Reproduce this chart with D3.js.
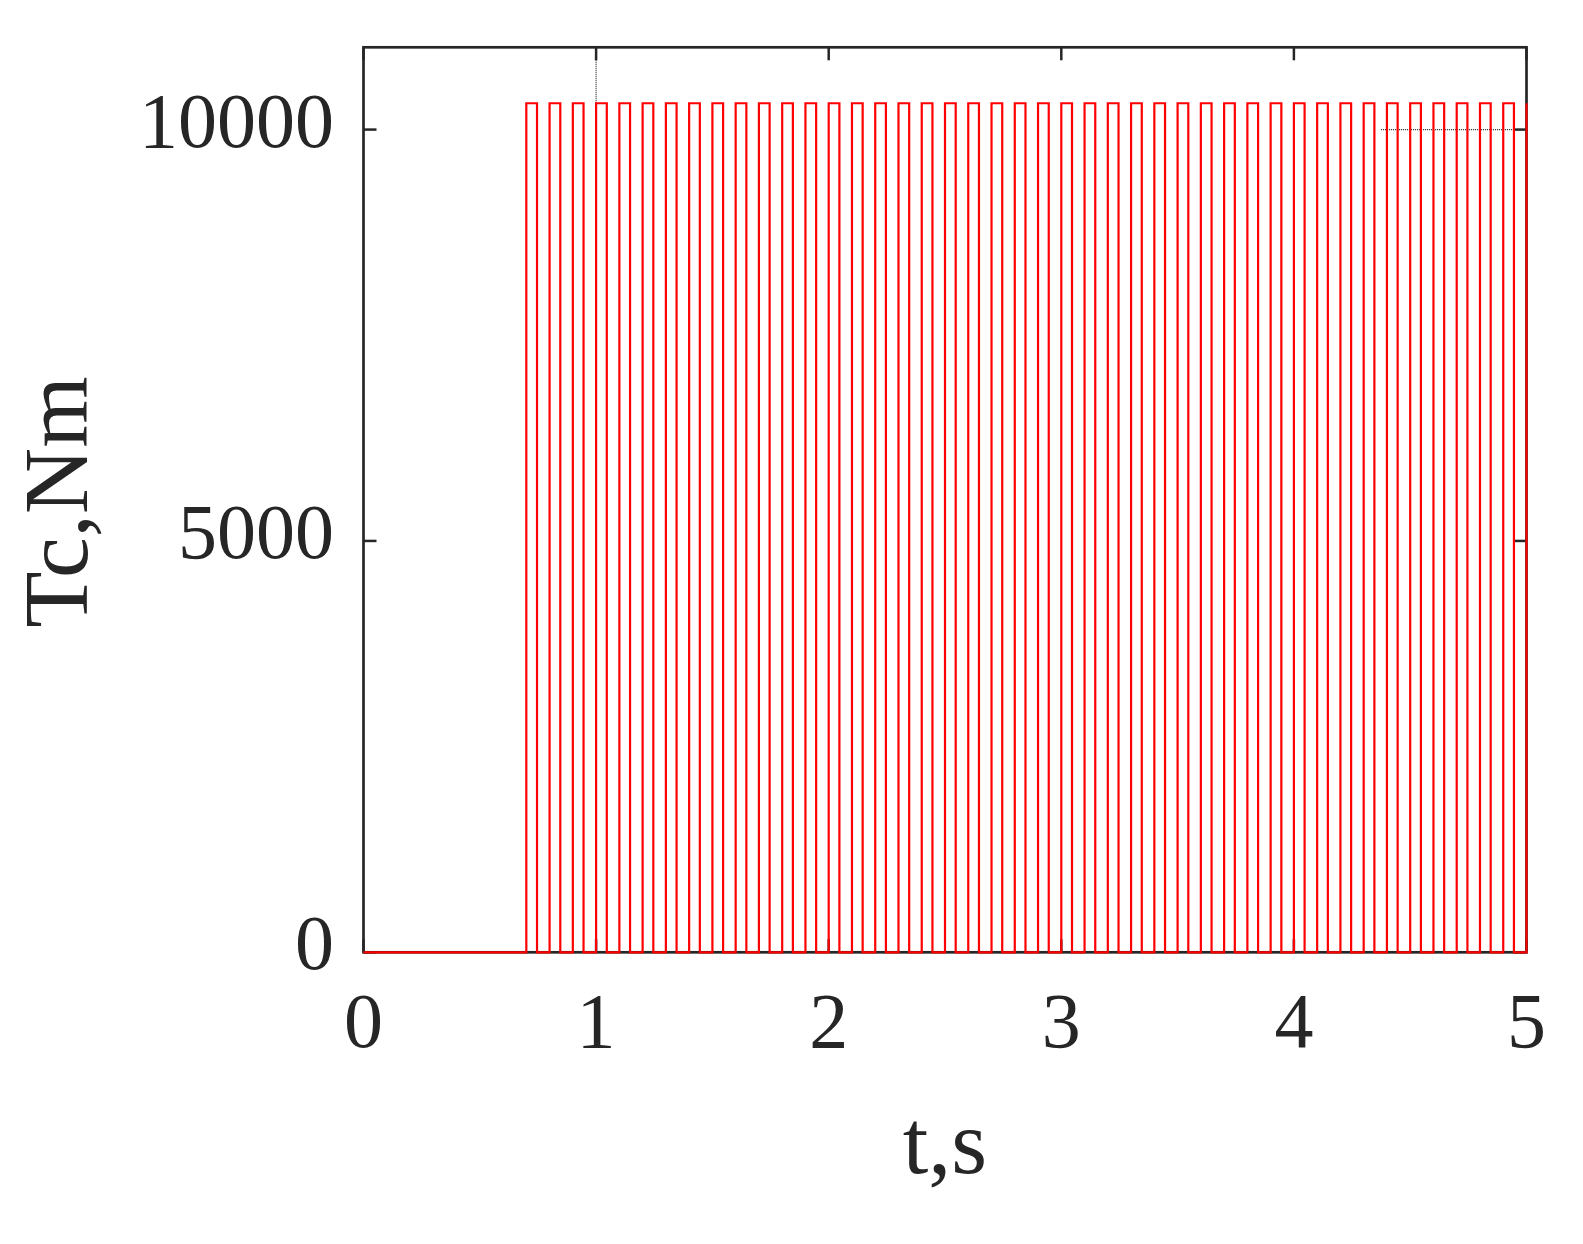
<!DOCTYPE html>
<html>
<head>
<meta charset="utf-8">
<script src="https://cdn.jsdelivr.net/npm/d3@7"></script>
<style>
  body { margin: 0; background: #fff; }
  text { font-family: "Liberation Serif", "DejaVu Serif", serif; fill: #262626; }
</style>
</head>
<body>
<div id="chart"></div>
<script>
// pulse train: rising / falling edge times (s), pulse level (Nm)
const riseT = [0.70, 0.80, 0.90, 1.00, 1.10, 1.20, 1.30, 1.40, 1.50, 1.60,
               1.70, 1.80, 1.90, 2.00, 2.10, 2.20, 2.30, 2.40, 2.50, 2.60,
               2.70, 2.80, 2.90, 3.00, 3.10, 3.20, 3.30, 3.40, 3.50, 3.60,
               3.70, 3.80, 3.90, 4.00, 4.10, 4.20, 4.30, 4.40, 4.50, 4.60,
               4.70, 4.80, 4.90, 5.00];
const fallT = [0.746, 0.846, 0.946, 1.046, 1.146, 1.246, 1.346, 1.446, 1.546, 1.646,
               1.746, 1.846, 1.946, 2.046, 2.146, 2.246, 2.346, 2.446, 2.546, 2.646,
               2.746, 2.846, 2.946, 3.046, 3.146, 3.246, 3.346, 3.446, 3.546, 3.646,
               3.746, 3.846, 3.946, 4.046, 4.146, 4.246, 4.346, 4.446, 4.546, 4.646,
               4.746, 4.846, 4.946];
const pulseLevel = 10320;
const tStart = 0, tEnd = 5;

const xTicks = [0, 1, 2, 3, 4, 5];
const yTicks = [0, 5000, 10000];
const xLabel = "t,s";
const yLabel = "Tc,Nm";

// faint dotted tick remnants visible in the original figure
const vRemnants = [{t: 1, from: 10320, to: 11000}, {t: 4, from: 0, to: 2130}];
const hRemnants = [{v: 10000, from: 4.374, to: 5}];

{
    // canvas setup
    const width = 1583, height = 1244;
    const margin = {left: 363.5, top: 47.3, right: 1583 - 1526.5, bottom: 1244 - 952.3};
    const iw = width - margin.left - margin.right;
    const ih = height - margin.top - margin.bottom;
    const ink = "#262626";

    const svg = d3.select("#chart")
        .append("svg")
        .attr("width", width)
        .attr("height", height);

    const x = d3.scaleLinear().domain([0, 5]).range([margin.left, margin.left + iw]);
    const y = d3.scaleLinear().domain([0, 11000]).range([margin.top + ih, margin.top]);

    // build the step signal from the edge lists
    const pts = [[tStart, 0]];
    riseT.forEach((r, i) => {
        pts.push([r, 0], [r, pulseLevel]);
        if (i < fallT.length) pts.push([fallT[i], pulseLevel], [fallT[i], 0]);
    });

    // remnants (drawn under the signal)
    svg.append("g")
        .selectAll("line.v")
        .data(vRemnants)
        .join("line")
        .attr("x1", d => x(d.t)).attr("x2", d => x(d.t))
        .attr("y1", d => y(d.from)).attr("y2", d => y(d.to))
        .attr("stroke", ink)
        .attr("stroke-width", 1.2)
        .attr("stroke-dasharray", "1,1");
    svg.append("g")
        .selectAll("line.h")
        .data(hRemnants)
        .join("line")
        .attr("x1", d => x(d.from)).attr("x2", d => x(d.to))
        .attr("y1", d => y(d.v)).attr("y2", d => y(d.v))
        .attr("stroke", ink)
        .attr("stroke-width", 1.2)
        .attr("stroke-dasharray", "1,1");

    // inward ticks on all four sides
    const tickLen = 13;
    const ticks = svg.append("g").attr("stroke", ink).attr("stroke-width", 2.5);
    xTicks.forEach(t => {
        ticks.append("line").attr("x1", x(t)).attr("x2", x(t))
            .attr("y1", y(0)).attr("y2", y(0) - tickLen);
        ticks.append("line").attr("x1", x(t)).attr("x2", x(t))
            .attr("y1", y(11000)).attr("y2", y(11000) + tickLen);
    });
    yTicks.forEach(v => {
        ticks.append("line").attr("x1", x(0)).attr("x2", x(0) + tickLen)
            .attr("y1", y(v)).attr("y2", y(v));
        ticks.append("line").attr("x1", x(5)).attr("x2", x(5) - tickLen)
            .attr("y1", y(v)).attr("y2", y(v));
    });

    // box
    svg.append("rect")
        .attr("x", x(0)).attr("y", y(11000))
        .attr("width", iw).attr("height", ih)
        .attr("fill", "none")
        .attr("stroke", ink)
        .attr("stroke-width", 2.7);

    // the signal
    const line = d3.line().x(d => x(d[0])).y(d => y(d[1]));
    svg.append("path")
        .datum(pts)
        .attr("d", line)
        .attr("fill", "none")
        .attr("stroke", "#ff0000")
        .attr("stroke-width", 2.2)
        .attr("stroke-linejoin", "miter");

    // tick labels
    svg.append("g")
        .selectAll("text")
        .data(xTicks)
        .join("text")
        .attr("x", d => x(d))
        .attr("y", 1047)
        .attr("text-anchor", "middle")
        .attr("font-size", 78)
        .text(d => d);

    svg.append("g")
        .selectAll("text")
        .data(yTicks)
        .join("text")
        .attr("x", 334)
        .attr("y", d => y(d) + 17)
        .attr("text-anchor", "end")
        .attr("font-size", 78)
        .text(d => d);

    // axis titles
    svg.append("text")
        .attr("x", (x(0) + x(5)) / 2)
        .attr("y", 1173)
        .attr("text-anchor", "middle")
        .attr("font-size", 92)
        .text(xLabel);

    svg.append("text")
        .attr("transform", "translate(87," + 502 + ") rotate(-90)")
        .attr("text-anchor", "middle")
        .attr("font-size", 92)
        .text(yLabel);
}
</script>
</body>
</html>
